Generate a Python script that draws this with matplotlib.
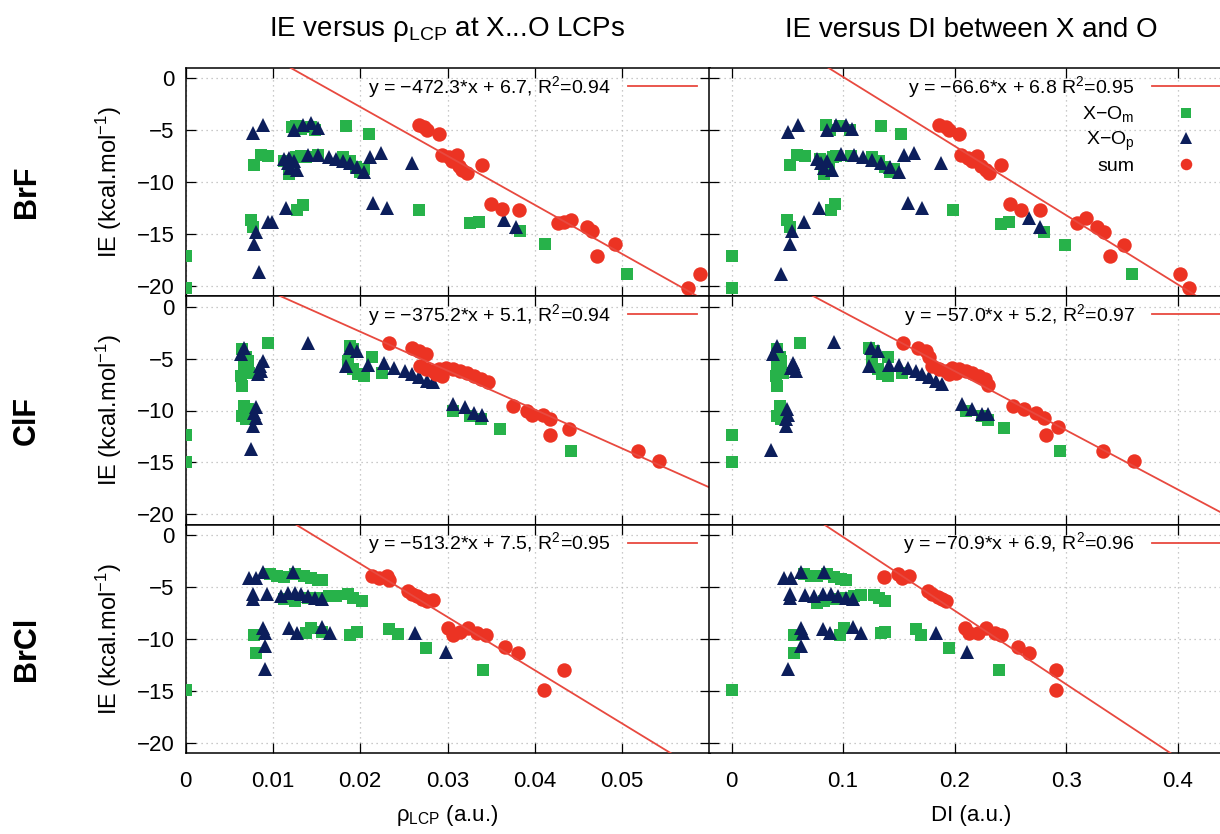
import numpy as np
import matplotlib
matplotlib.use("Agg")
import matplotlib.pyplot as plt

plt.rcParams['font.family'] = ['Liberation Sans', 'DejaVu Sans']
plt.rcParams['mathtext.fontset'] = 'custom'
plt.rcParams['mathtext.rm'] = 'Liberation Sans'
plt.rcParams['mathtext.it'] = 'Liberation Sans:italic'
plt.rcParams['mathtext.default'] = 'regular'

# ---------------- data ----------------
# BrF, rho_LCP
brf_rho_om_x = [0, 0, 0.0075, 0.0077, 0.0078, 0.0087, 0.0095, 0.0122, 0.0127, 0.0132, 0.0144, 0.0148,
                0.0113, 0.0118, 0.0122, 0.0127, 0.0132, 0.0138, 0.0128, 0.0134, 0.0152, 0.0184, 0.0210,
                0.0180, 0.0188, 0.0195, 0.0200, 0.0204, 0.0267, 0.0326, 0.0336, 0.0383, 0.0412, 0.0505]
brf_rho_om_y = [-17.1, -20.2, -13.6, -14.3, -8.3, -7.4, -7.5, -4.7, -4.6, -4.9, -4.7, -5.0,
                -8.0, -9.2, -8.6, -7.6, -7.5, -7.6, -12.7, -12.2, -7.4, -4.6, -5.4,
                -7.6, -8.0, -8.5, -9.0, -8.7, -12.7, -13.9, -13.8, -14.7, -16.0, -18.8]
brf_rho_op_x = [0.0077, 0.0089, 0.0081, 0.0079, 0.0084, 0.0095, 0.0099, 0.0115, 0.0113, 0.0117, 0.0120,
                0.0124, 0.0128, 0.0118, 0.0124, 0.0134, 0.0144, 0.0152, 0.0140, 0.0152, 0.0164, 0.0172,
                0.0180, 0.0188, 0.0196, 0.0204, 0.0211, 0.0224, 0.0215, 0.0231, 0.0259, 0.0365, 0.0379]
brf_rho_op_y = [-5.3, -4.5, -14.8, -16.0, -18.7, -13.8, -13.8, -12.5, -7.8, -8.2, -8.6,
                -8.0, -8.8, -7.7, -5.0, -4.5, -4.3, -4.8, -7.4, -7.4, -7.6, -7.8,
                -8.0, -8.2, -8.5, -9.0, -7.6, -7.2, -12.0, -12.5, -8.2, -13.6, -14.3]
brf_rho_sum_x = [0.0267, 0.0273, 0.0277, 0.0290, 0.0294, 0.0302, 0.0305, 0.0311, 0.0313, 0.0317, 0.0322,
                 0.0340, 0.0350, 0.0362, 0.0382, 0.0427, 0.0433, 0.0441, 0.0460, 0.0465, 0.0471, 0.0492,
                 0.0575, 0.0589]
brf_rho_sum_y = [-4.5, -4.7, -5.0, -5.4, -7.4, -7.6, -8.0, -7.4, -8.4, -8.8, -9.1,
                 -8.3, -12.1, -12.6, -12.7, -13.9, -13.8, -13.6, -14.3, -14.7, -17.1, -16.0,
                 -20.2, -18.8]

# BrF, DI
brf_di_om_x = [0, 0, 0.050, 0.052, 0.052, 0.059, 0.066, 0.085, 0.088, 0.097, 0.106, 0.079, 0.083, 0.087,
               0.091, 0.094, 0.089, 0.093, 0.107, 0.134, 0.152, 0.126, 0.132, 0.138, 0.142, 0.146,
               0.199, 0.242, 0.249, 0.280, 0.299, 0.359]
brf_di_om_y = [-17.1, -20.2, -13.6, -14.3, -8.3, -7.4, -7.5, -4.5, -5.0, -4.6, -5.0, -7.8, -9.2, -8.5,
               -7.6, -7.5, -12.7, -12.1, -7.5, -4.6, -5.4, -7.6, -8.0, -8.5, -9.0, -8.7,
               -12.7, -14.0, -13.8, -14.8, -16.1, -18.8]
brf_di_op_x = [0.051, 0.060, 0.054, 0.052, 0.044, 0.065, 0.078, 0.077, 0.080, 0.083, 0.086, 0.090,
               0.086, 0.094, 0.103, 0.108, 0.098, 0.110, 0.118, 0.126, 0.134, 0.142, 0.150, 0.155,
               0.164, 0.158, 0.171, 0.188, 0.267, 0.277]
brf_di_op_y = [-5.2, -4.5, -14.7, -16.0, -18.8, -13.8, -12.5, -7.8, -8.2, -8.6, -8.0, -8.8,
               -5.0, -4.5, -4.5, -4.9, -7.3, -7.4, -7.6, -7.9, -8.2, -8.5, -9.0, -7.4,
               -7.2, -12.0, -12.5, -8.2, -13.5, -14.3]
brf_di_sum_x = [0.186, 0.192, 0.195, 0.204, 0.206, 0.212, 0.216, 0.220, 0.224, 0.228, 0.231, 0.242,
                0.250, 0.260, 0.277, 0.310, 0.318, 0.328, 0.334, 0.339, 0.352, 0.402, 0.410]
brf_di_sum_y = [-4.5, -4.7, -5.0, -5.4, -7.4, -7.7, -8.0, -7.5, -8.4, -8.8, -9.1, -8.3,
                -12.1, -12.7, -12.7, -13.9, -13.5, -14.3, -14.8, -17.1, -16.1, -18.8, -20.2]

# ClF, rho_LCP
clf_rho_om_x = [0, 0, 0.0095, 0.0065, 0.0069, 0.0067, 0.0063, 0.0065, 0.0073, 0.0071, 0.0067, 0.0071,
                0.0065, 0.0069, 0.0188, 0.0192, 0.0186, 0.0192, 0.0198, 0.0204, 0.0213, 0.0225,
                0.0306, 0.0326, 0.0338, 0.0360, 0.0441]
clf_rho_om_y = [-12.4, -15.0, -3.5, -4.1, -4.8, -5.7, -6.7, -7.6, -6.4, -5.2, -9.6, -9.9,
                -10.5, -10.8, -3.8, -4.1, -5.2, -6.0, -6.5, -6.7, -4.8, -6.4,
                -10.0, -10.5, -10.8, -11.8, -13.9]
clf_rho_op_x = [0.0140, 0.0063, 0.0067, 0.0085, 0.0087, 0.0083, 0.0089, 0.0081, 0.0079, 0.0081, 0.0077,
                0.0075, 0.0184, 0.0188, 0.0196, 0.0209, 0.0227, 0.0239, 0.0251, 0.0259, 0.0267, 0.0277,
                0.0283, 0.0306, 0.0320, 0.0330, 0.0340]
clf_rho_op_y = [-3.5, -4.6, -4.0, -5.7, -6.2, -6.5, -5.2, -9.7, -10.2, -10.7, -11.5,
                -13.7, -5.7, -4.0, -4.3, -5.6, -5.4, -5.9, -6.2, -6.5, -6.8, -7.2,
                -7.3, -9.4, -9.7, -10.2, -10.4]
clf_rho_sum_x = [0.0233, 0.0259, 0.0267, 0.0275, 0.0269, 0.0275, 0.0283, 0.0290, 0.0298, 0.0306, 0.0314,
                 0.0322, 0.0330, 0.0338, 0.0346, 0.0287, 0.0294, 0.0375, 0.0391, 0.0397, 0.0409, 0.0417,
                 0.0417, 0.0439, 0.0518, 0.0542]
clf_rho_sum_y = [-3.5, -4.0, -4.3, -4.6, -5.7, -6.0, -6.2, -6.0, -5.9, -6.0, -6.2,
                 -6.4, -6.7, -7.0, -7.3, -6.5, -6.7, -9.6, -10.0, -10.4, -10.4, -10.8,
                 -12.4, -11.8, -13.9, -14.9]

# ClF, DI
clf_di_om_x = [0, 0, 0.061, 0.041, 0.043, 0.041, 0.040, 0.041, 0.046, 0.044, 0.043, 0.044, 0.041, 0.044,
               0.123, 0.128, 0.126, 0.131, 0.135, 0.140, 0.140, 0.153, 0.210, 0.225, 0.230, 0.244, 0.295]
clf_di_om_y = [-12.4, -15.0, -3.5, -4.1, -4.8, -5.7, -6.7, -7.6, -6.4, -5.2, -9.6, -10.0, -10.5, -10.8,
               -4.0, -4.3, -5.2, -6.0, -6.5, -6.7, -4.8, -6.4, -10.0, -10.5, -10.9, -11.7, -13.9]
clf_di_op_x = [0.092, 0.037, 0.041, 0.053, 0.056, 0.058, 0.055, 0.050, 0.051, 0.049, 0.049, 0.035,
               0.123, 0.125, 0.131, 0.141, 0.150, 0.158, 0.165, 0.171, 0.177, 0.183, 0.189,
               0.207, 0.216, 0.225, 0.230]
clf_di_op_y = [-3.4, -4.6, -3.8, -5.9, -5.7, -6.2, -5.4, -9.9, -10.4, -10.8, -11.5, -13.8,
               -5.7, -4.0, -4.3, -5.6, -5.6, -5.9, -6.2, -6.5, -6.8, -7.2, -7.4,
               -9.4, -9.9, -10.3, -10.3]
clf_di_sum_x = [0.154, 0.167, 0.174, 0.177, 0.180, 0.186, 0.192, 0.198, 0.204, 0.210, 0.216, 0.222,
                0.227, 0.230, 0.195, 0.201, 0.252, 0.262, 0.273, 0.280, 0.293, 0.282, 0.333, 0.361]
clf_di_sum_y = [-3.5, -4.0, -4.3, -4.8, -5.7, -6.0, -6.2, -5.9, -6.0, -6.2, -6.4, -6.7,
                -7.0, -7.5, -6.5, -6.4, -9.6, -9.9, -10.2, -10.7, -11.6, -12.4, -13.9, -14.9]

# BrCl, rho_LCP
brcl_rho_om_x = [0, 0.0097, 0.0105, 0.0113, 0.0125, 0.0136, 0.0144, 0.0152, 0.0156, 0.0113, 0.0125,
                 0.0140, 0.0152, 0.0164, 0.0172, 0.0186, 0.0192, 0.0202, 0.0079, 0.0081, 0.0138, 0.0144,
                 0.0156, 0.0188, 0.0196, 0.0233, 0.0243, 0.0275, 0.0341]
brcl_rho_om_y = [-14.9, -3.8, -3.9, -4.0, -3.8, -3.9, -4.1, -4.3, -4.3, -6.2, -6.4,
                 -6.1, -6.1, -5.9, -5.9, -5.7, -6.1, -6.4, -9.6, -11.4, -9.4, -9.0,
                 -9.3, -9.6, -9.3, -9.1, -9.5, -10.9, -13.0]
brcl_rho_op_x = [0.0073, 0.0081, 0.0089, 0.0123, 0.0077, 0.0077, 0.0093, 0.0109, 0.0117, 0.0125, 0.0132,
                 0.0140, 0.0148, 0.0156, 0.0089, 0.0091, 0.0091, 0.0091, 0.0119, 0.0128, 0.0156, 0.0166,
                 0.0263, 0.0298]
brcl_rho_op_y = [-4.1, -4.1, -3.6, -3.6, -5.7, -6.2, -5.7, -5.9, -5.6, -5.6, -5.7,
                 -5.9, -6.1, -6.2, -9.0, -9.4, -10.7, -12.9, -9.0, -9.4, -8.9, -9.4,
                 -9.4, -11.3]
brcl_rho_sum_x = [0.0213, 0.0221, 0.0231, 0.0233, 0.0255, 0.0259, 0.0265, 0.0271, 0.0277, 0.0283,
                  0.0300, 0.0306, 0.0314, 0.0324, 0.0334, 0.0344, 0.0366, 0.0381, 0.0411, 0.0433]
brcl_rho_sum_y = [-3.9, -4.1, -3.9, -4.3, -5.4, -5.7, -5.9, -6.2, -6.4, -6.3,
                  -9.0, -9.6, -9.3, -9.0, -9.4, -9.6, -10.8, -11.4, -14.9, -13.0]

# BrCl, DI
brcl_di_om_x = [0, 0.065, 0.071, 0.077, 0.086, 0.092, 0.098, 0.103, 0.077, 0.083, 0.094, 0.103, 0.110,
                0.116, 0.128, 0.132, 0.138, 0.056, 0.056, 0.097, 0.101, 0.134, 0.138, 0.165, 0.170,
                0.195, 0.240]
brcl_di_om_y = [-14.9, -3.8, -3.9, -3.9, -3.8, -4.0, -4.2, -4.3, -6.5, -6.4, -6.2, -6.1, -5.9,
                -5.8, -5.8, -6.1, -6.4, -9.6, -11.4, -9.6, -9.0, -9.4, -9.3, -9.1, -9.6,
                -10.9, -13.0]
brcl_di_op_x = [0.047, 0.053, 0.062, 0.083, 0.052, 0.052, 0.066, 0.074, 0.082, 0.089, 0.095, 0.103,
                0.109, 0.062, 0.064, 0.062, 0.051, 0.082, 0.088, 0.109, 0.116, 0.183, 0.211]
brcl_di_op_y = [-4.1, -4.1, -3.6, -3.6, -5.7, -6.1, -5.8, -5.9, -5.7, -5.7, -5.9, -6.1,
                -6.2, -9.0, -9.4, -10.7, -12.9, -9.1, -9.4, -8.9, -9.4, -9.4, -11.3]
brcl_di_sum_x = [0.137, 0.149, 0.153, 0.159, 0.176, 0.180, 0.185, 0.189, 0.192, 0.209, 0.213, 0.221,
                 0.228, 0.236, 0.242, 0.257, 0.267, 0.291, 0.291]
brcl_di_sum_y = [-4.0, -3.8, -4.1, -3.9, -5.4, -5.7, -6.0, -6.2, -6.4, -9.0, -9.4, -9.4,
                 -9.0, -9.4, -9.6, -10.8, -11.4, -13.0, -14.9]

# linear fits of "sum" (slope, intercept, label)
rho_slope = [-472.3, -375.2, -513.2]
rho_icpt = [6.7, 5.1, 7.5]
rho_label = ['y = \u2212472.3*x + 6.7, R$^{2}$=0.94',
             'y = \u2212375.2*x + 5.1, R$^{2}$=0.94',
             'y = \u2212513.2*x + 7.5, R$^{2}$=0.95']
di_slope = [-66.6, -57.0, -70.9]
di_icpt = [6.8, 5.2, 6.9]
di_label = ['y = \u221266.6*x + 6.8 R$^{2}$=0.95',
            'y = \u221257.0*x + 5.2, R$^{2}$=0.97',
            'y = \u221270.9*x + 6.9, R$^{2}$=0.96']

molecules = ['BrF', 'ClF', 'BrCl']
series_names = ['X\u2212O$_{m}$', 'X\u2212O$_{p}$', 'sum']

rho_data = [
    [(brf_rho_om_x, brf_rho_om_y), (brf_rho_op_x, brf_rho_op_y), (brf_rho_sum_x, brf_rho_sum_y)],
    [(clf_rho_om_x, clf_rho_om_y), (clf_rho_op_x, clf_rho_op_y), (clf_rho_sum_x, clf_rho_sum_y)],
    [(brcl_rho_om_x, brcl_rho_om_y), (brcl_rho_op_x, brcl_rho_op_y), (brcl_rho_sum_x, brcl_rho_sum_y)],
]
di_data = [
    [(brf_di_om_x, brf_di_om_y), (brf_di_op_x, brf_di_op_y), (brf_di_sum_x, brf_di_sum_y)],
    [(clf_di_om_x, clf_di_om_y), (clf_di_op_x, clf_di_op_y), (clf_di_sum_x, clf_di_sum_y)],
    [(brcl_di_om_x, brcl_di_om_y), (brcl_di_op_x, brcl_di_op_y), (brcl_di_sum_x, brcl_di_sum_y)],
]

# ---------------- styling ----------------
green = '#27b24a'
navy = '#0c1e5b'
red = '#ec3323'
fitred = '#e8493f'
mk = [dict(marker='s', color=green, ms=9.2),
      dict(marker='^', color=navy, ms=10.0),
      dict(marker='o', color=red, ms=10.4)]

W, H = 1220, 834
fig = plt.figure(figsize=(W / 100, H / 100), dpi=100)

top0 = 68.0
rowh = (753.0 - 68.0) / 3
colw = 524.0
col_left = [185.5, 709.3]
xlims = [(0, 0.06), (-0.02, 0.45)]
xticks = [np.arange(0, 0.061, 0.01), np.arange(0, 0.45, 0.1)]
xticklabels = [['0', '0.01', '0.02', '0.03', '0.04', '0.05', ''],
               ['0', '0.1', '0.2', '0.3', '0.4']]

for r in range(3):
    for c in range(2):
        ax = fig.add_axes([col_left[c] / W, 1 - (top0 + (r + 1) * rowh) / H,
                           colw / W, rowh / H])
        data = rho_data[r] if c == 0 else di_data[r]
        slope = rho_slope[r] if c == 0 else di_slope[r]
        icpt = rho_icpt[r] if c == 0 else di_icpt[r]
        lab = rho_label[r] if c == 0 else di_label[r]

        ax.set_xlim(*xlims[c])
        ax.set_ylim(-21, 1)
        ax.grid(True, color='#b8b8b8', linestyle=(0, (1, 3)), linewidth=0.9)
        ax.set_axisbelow(True)

        handles = []
        for (xs, ys), st, name in zip(data, mk, series_names):
            h, = ax.plot(xs, ys, linestyle='none', marker=st['marker'], color=st['color'],
                         ms=st['ms'], mew=0, label=name, zorder=3)
            handles.append(h)
        xl = np.array(xlims[c])
        fl, = ax.plot(xl, slope * xl + icpt, color=fitred, lw=1.3, zorder=4, label=lab)

        if r == 0 and c == 1:
            leg_handles = [fl] + handles
        else:
            leg_handles = [fl]
        ax.legend(handles=leg_handles, loc='upper right', bbox_to_anchor=(1 - 13 / colw, 0.975),
                  frameon=False, markerfirst=False, borderpad=0, borderaxespad=0,
                  handlelength=3.5, handletextpad=0.9, labelspacing=0.25, fontsize=14,
                  numpoints=1, markerscale=0.8)

        ax.set_xticks(xticks[c])
        ax.set_yticks([0, -5, -10, -15, -20])
        ax.tick_params(direction='in', top=True, right=True, length=7, width=0.9,
                       labelsize=16)
        ax.tick_params(axis='x', pad=13)
        ax.tick_params(axis='y', pad=8)
        if r == 2:
            ax.set_xticklabels(xticklabels[c])
        else:
            ax.set_xticklabels([])
        if c == 1:
            ax.set_yticklabels([])
        else:
            ax.set_yticklabels(['0', '\u22125', '\u221210', '\u221215', '\u221220'])
            ax.set_ylabel('IE (kcal.mol$^{\u22121}$)', fontsize=17, labelpad=9)
        for s in ax.spines.values():
            s.set_linewidth(1.1)

    yc = top0 + (r + 0.5) * rowh + 10
    fig.text(27 / W, 1 - yc / H, molecules[r], rotation=90, fontsize=22,
             fontweight='bold', ha='center', va='center')

fig.text(447 / W, 1 - 30 / H, 'IE versus \u03c1$_{LCP}$ at X...O LCPs', fontsize=20,
         ha='center', va='center')
fig.text(971 / W, 1 - 30 / H, 'IE versus DI between X and O', fontsize=20,
         ha='center', va='center')
fig.text(447 / W, 1 - 815 / H, '\u03c1$_{LCP}$ (a.u.)', fontsize=16, ha='center', va='center')
fig.text(971 / W, 1 - 815 / H, 'DI (a.u.)', fontsize=16, ha='center', va='center')

fig.savefig('out.png', dpi=100)
